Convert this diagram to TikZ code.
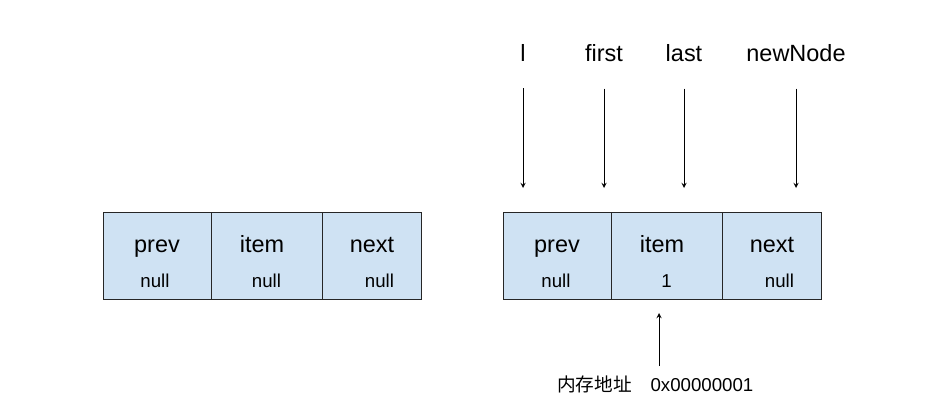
\documentclass[tikz,border=0pt]{standalone}
\usepackage{fontspec}
\setmainfont{Liberation Sans}
\newfontfamily\cjkfont{Noto Sans CJK SC}
\usepackage{tikz}
\usetikzlibrary{shapes}
\definecolor{cellblue}{HTML}{CFE2F3}
\newcommand\valfont{\fontsize{14}{17}\selectfont}
\newcommand\cellTxt[2]{\rule{0pt}{26pt}#1\\[6pt]{\valfont #2\strut}}
\tikzset{
  every picture/.style={font={\fontsize{17.6}{20}\selectfont}, >=stealth}}

\begin{document}
\begin{tikzpicture}[x=0.75pt, y=-0.75pt,
    llNode/.style={
      draw=black!85, fill=cellblue, line width=0.75pt,
      align=center,
      rectangle split,
      rectangle split horizontal,
      rectangle split parts=3,
      inner xsep=0pt, inner ysep=0pt,
      minimum height=65.25pt, anchor=north west},
    varName/.style={anchor=base, inner sep=0pt},
    ptr/.style={->, line width=0.75pt}]

  \useasboundingbox (0,0) rectangle (951,419);

  \node[llNode] (oldBox) at (103,212)
  {
    \nodepart[text width=80.25pt]{one}\cellTxt{prev}{\hspace*{-3pt}null}
    \nodepart[text width=82.5pt]{two}\cellTxt{\hspace*{-6.75pt}item}{null}
    \nodepart[text width=74.25pt]{three}\cellTxt{next}{\hspace*{11.25pt}null}
  };

  \node[llNode] (newBox) at (503,212)
  {
    \nodepart[text width=80.25pt]{one}\cellTxt{prev}{\hspace*{-1.5pt}null}
    \nodepart[text width=82.5pt]{two}\cellTxt{\hspace*{-6.75pt}item}{1}
    \nodepart[text width=74.25pt]{three}\cellTxt{next}{\hspace*{11.25pt}null}
  };

  \node[varName] (l) at (523,61) {l};
  \node[varName] (first) at (604,61) {first};
  \node[varName] (last) at (684,61) {last};
  \node[varName] (newNode) at (796,61) {newNode};

  \foreach \v in {l, first, last, newNode}
    \draw[ptr, shorten <=20.25pt, shorten >=18pt] (\v.south) -- (\v.south |- newBox.north);

  \node[anchor=base west, inner sep=0pt, font=\valfont] (addr) at (557,391)
    {{\cjkfont 内存地址}\hspace{1em}0x00000001};
  \coordinate (addrTail) at (659,366);
  \draw[ptr, shorten >=9.75pt] (addrTail) -- (addrTail |- newBox.south);
\end{tikzpicture}
\end{document}
